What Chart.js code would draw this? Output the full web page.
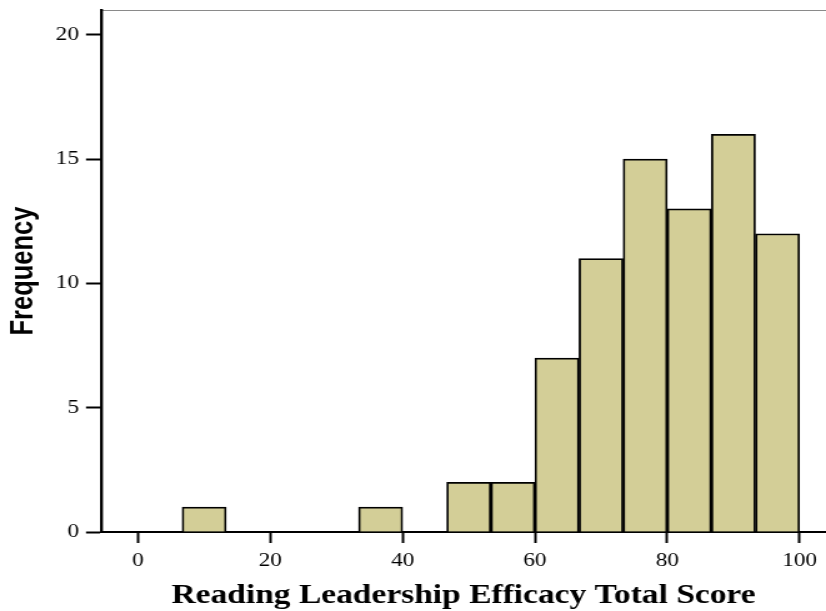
<!DOCTYPE html>
<html>
<head>
<meta charset="utf-8">
<title>Reading Leadership Efficacy Total Score</title>
<script src="https://cdn.jsdelivr.net/npm/chart.js@4"></script>
<style>
    html, body { margin: 0; padding: 0; background: #fff; }
</style>
</head>
<body>
<!-- drawn narrower, shown wider: keeps the wide serif look of the original export -->
<canvas id="histChart" width="661" height="611" style="display:block;width:826px;height:611px"></canvas>
<script>
// bins are 6.67 points wide, x = bin centre
const binCenters = [10, 16.67, 23.33, 30, 36.67, 43.33, 50, 56.67, 63.33, 70, 76.67, 83.33, 90, 96.67];
const frequencies = [1, 0, 0, 0, 1, 0, 2, 2, 7, 11, 15, 13, 16, 12];
const xTicks = [0, 20, 40, 60, 80, 100];
const yTicks = [0, 5, 10, 15, 20];

const serif = "'Liberation Serif', 'Times New Roman', serif";
const sans = "'Liberation Sans', Arial, sans-serif";

const points = binCenters.map((x, i) => ({ x: x, y: frequencies[i] }));

new Chart(document.getElementById('histChart').getContext('2d'), {
    type: 'bar',
    data: {
        datasets: [{
            label: 'Frequency',
            data: points,
            backgroundColor: '#d3ce97',
            borderColor: '#000',
            borderWidth: 1.8,
            barPercentage: 1,
            categoryPercentage: 1
        }]
    },
    options: {
        responsive: false,
        devicePixelRatio: 1,
        animation: false,
        layout: { padding: { top: 10, right: 0, bottom: 0, left: 0 } },
        plugins: {
            legend: { display: false },
            tooltip: { enabled: false }
        },
        scales: {
            x: {
                type: 'linear',
                position: 'bottom',
                min: -5.6,
                max: 104,
                offset: false,
                afterBuildTicks: (s) => { s.ticks = xTicks.map(v => ({ value: v })); },
                afterFit: (s) => { s.height = 79; s.paddingLeft = 0; s.paddingRight = 0; },
                grid: { drawOnChartArea: false, offset: false, tickLength: 11, tickColor: '#000', tickWidth: 2 },
                border: { display: true, color: '#000', width: 2 },
                ticks: { color: '#000', padding: 7, maxRotation: 0, font: { family: serif, size: 18.6 } },
                title: {
                    display: true,
                    text: 'Reading Leadership Efficacy Total Score',
                    color: '#000',
                    padding: { top: 0, bottom: 2 },
                    font: { family: serif, size: 26.8, weight: 'bold', lineHeight: 1 }
                }
            },
            xTop: {
                type: 'linear',
                position: 'top',
                min: -5.6,
                max: 104,
                afterFit: (s) => { s.height = 0; s.paddingLeft = 0; s.paddingRight = 0; },
                grid: { drawOnChartArea: false, drawTicks: false },
                border: { display: true, color: '#8a8a8a', width: 1 },
                ticks: { display: false }
            },
            y: {
                min: 0,
                max: 21,
                afterBuildTicks: (s) => { s.ticks = yTicks.map(v => ({ value: v })); },
                afterFit: (s) => { s.width = 80.8; s.paddingTop = 0; s.paddingBottom = 0; },
                grid: { drawOnChartArea: false, tickLength: 12, tickColor: '#000', tickWidth: 2 },
                border: { display: true, color: '#000', width: 2.4 },
                ticks: { color: '#000', padding: 5.6, font: { family: serif, size: 18.6 } },
                title: {
                    display: true,
                    text: 'Frequency',
                    color: '#000',
                    padding: { top: 4, bottom: 0 },
                    font: { family: sans, size: 25.5, weight: 'bold' }
                }
            }
        }
    }
});
</script>
</body>
</html>
